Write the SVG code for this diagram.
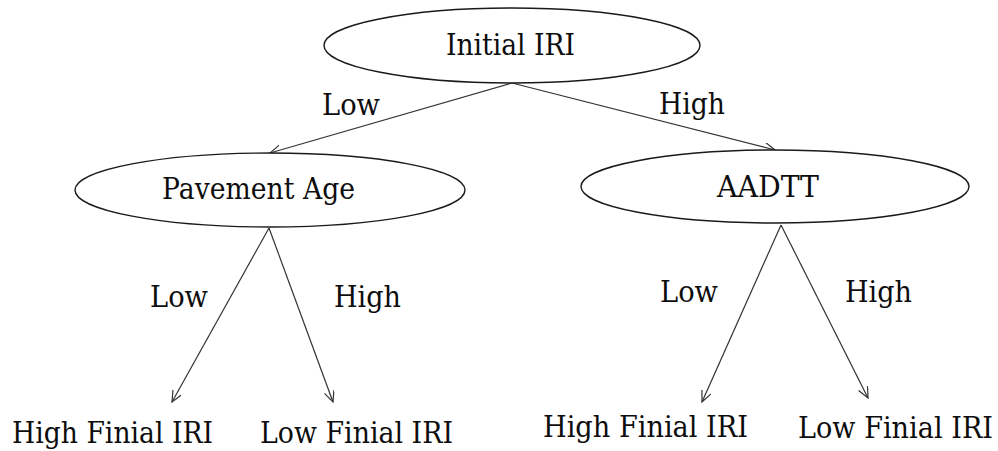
<svg xmlns="http://www.w3.org/2000/svg" width="998" height="451" viewBox="0 0 998 451">
  <style>
    .node { fill: #ffffff; stroke: #1a1a1a; stroke-width: 1.4; }
    .edge { fill: none; stroke: #333333; stroke-width: 1.2; marker-end: url(#head); }
    .lbl { font-family: "DejaVu Serif", "Liberation Serif", serif; font-size: 29px; fill: #0d0d0d; }
  </style>
  <defs>
    <marker id="head" markerUnits="userSpaceOnUse" markerWidth="14" markerHeight="12" refX="11" refY="5" orient="auto">
      <path d="M0,0 L11,5 L0,10" fill="none" stroke="#333333" stroke-width="1.2"/>
    </marker>
  </defs>
  <rect width="998" height="451" fill="#ffffff"/>

  <g id="connectors">
    <line class="edge" x1="512" y1="83" x2="270" y2="153"/>
    <line class="edge" x1="512" y1="83" x2="775" y2="150"/>
    <line class="edge" x1="269" y1="228" x2="172" y2="402"/>
    <line class="edge" x1="269" y1="228" x2="333" y2="402"/>
    <line class="edge" x1="781" y1="225" x2="702" y2="402"/>
    <line class="edge" x1="781" y1="225" x2="868" y2="398"/>
    <text class="lbl" x="322" y="115" textLength="58" lengthAdjust="spacingAndGlyphs">Low</text>
    <text class="lbl" x="659" y="114" textLength="66" lengthAdjust="spacingAndGlyphs">High</text>
    <text class="lbl" x="150" y="307" textLength="58" lengthAdjust="spacingAndGlyphs">Low</text>
    <text class="lbl" x="334" y="307" textLength="67" lengthAdjust="spacingAndGlyphs">High</text>
    <text class="lbl" x="660" y="302" textLength="58" lengthAdjust="spacingAndGlyphs">Low</text>
    <text class="lbl" x="845" y="302" textLength="67" lengthAdjust="spacingAndGlyphs">High</text>
  </g>

  <g id="initial-iri">
    <ellipse class="node" cx="512" cy="45.5" rx="188" ry="37.5"/>
    <text class="lbl" x="446" y="55" textLength="129" lengthAdjust="spacingAndGlyphs">Initial IRI</text>
  </g>

  <g id="pavement-age">
    <ellipse class="node" cx="270" cy="190" rx="195" ry="37"/>
    <text class="lbl" x="162" y="199" textLength="193" lengthAdjust="spacingAndGlyphs">Pavement Age</text>
  </g>

  <g id="aadtt">
    <ellipse class="node" cx="775" cy="186.5" rx="194" ry="36.5"/>
    <text class="lbl" x="717" y="197" textLength="102" lengthAdjust="spacingAndGlyphs">AADTT</text>
  </g>

  <g id="leaf-pa-low">
    <text class="lbl" x="12" y="443" textLength="201" lengthAdjust="spacingAndGlyphs">High Finial IRI</text>
  </g>
  <g id="leaf-pa-high">
    <text class="lbl" x="260" y="443" textLength="193" lengthAdjust="spacingAndGlyphs">Low Finial IRI</text>
  </g>
  <g id="leaf-aadtt-low">
    <text class="lbl" x="543" y="437" textLength="205" lengthAdjust="spacingAndGlyphs">High Finial IRI</text>
  </g>
  <g id="leaf-aadtt-high">
    <text class="lbl" x="993" y="438" text-anchor="end" textLength="195" lengthAdjust="spacingAndGlyphs">Low Finial IRI</text>
  </g>
</svg>
